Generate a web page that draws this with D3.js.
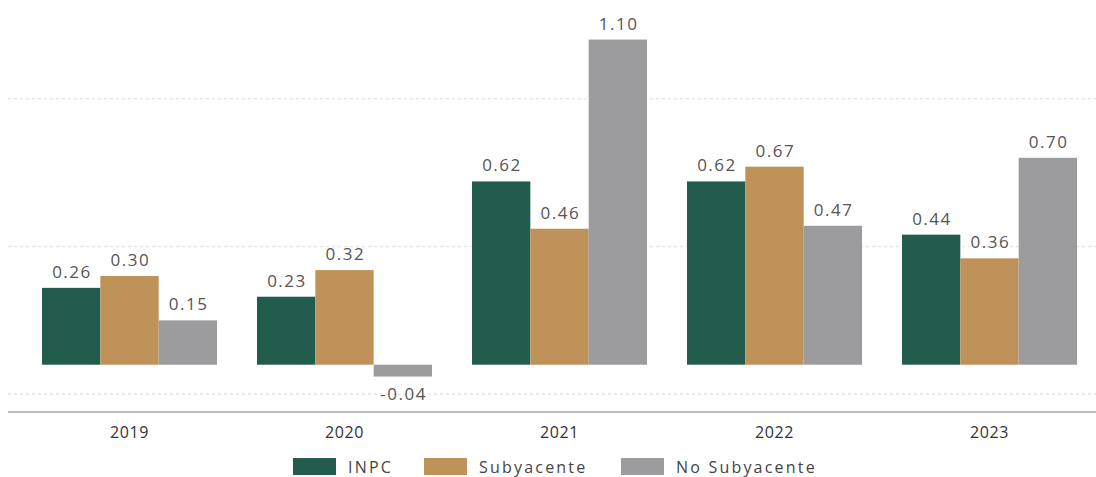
<!DOCTYPE html>
<html><head><meta charset="utf-8">
<script src="https://cdn.jsdelivr.net/npm/d3@7"></script>
<style>body{margin:0;background:#fff;} svg{display:block;}</style>
</head><body><svg id="c" width="1096" height="477"></svg>
<script>
const years = ["2019","2020","2021","2022","2023"];
const seriesNames = ["INPC","Subyacente","No Subyacente"];
const inpc = [0.26,0.23,0.62,0.62,0.44];
const subyacente = [0.30,0.32,0.46,0.67,0.36];
const noSubyacente = [0.15,-0.04,1.10,0.47,0.70];
const gridTicks = [-0.1,0.4,0.9];
const colors = ["#225c4c","#bf925a","#9c9c9e"];

const values = [inpc, subyacente, noSubyacente];
const svg = d3.select("#c");
const font = "'Open Sans', sans-serif";

const x = d3.scaleBand().domain(years).range([22,1097]).paddingInner(0.186).paddingOuter(0.093);
const xs = d3.scaleBand().domain(seriesNames).range([0,x.bandwidth()]);
const y = d3.scaleLinear().domain([-0.16,1.2]).range([412,10]);

// gridlines
svg.append("g").selectAll("line").data(gridTicks).join("line")
  .attr("x1",8).attr("x2",1096)
  .attr("y1",d=>y(d)).attr("y2",d=>y(d))
  .attr("stroke","#e6e6e6").attr("stroke-width",1.5).attr("stroke-dasharray","3,3");

// bars
const groups = svg.append("g").selectAll("g").data(years).join("g")
  .attr("transform",d=>`translate(${x(d)},0)`);
groups.each(function(yr,i){
  const g = d3.select(this);
  const rows = seriesNames.map((s,k)=>({s,k,v:values[k][i]}));
  g.selectAll("rect").data(rows).join("rect")
    .attr("x",d=>xs(d.s)).attr("width",xs.bandwidth())
    .attr("y",d=>y(Math.max(0,d.v))).attr("height",d=>Math.abs(y(d.v)-y(0)))
    .attr("fill",d=>colors[d.k]);
  g.selectAll("text").data(rows).join("text")
    .attr("x",d=>xs(d.s)+xs.bandwidth()/2+0.8)
    .attr("y",d=>d.v>=0 ? y(d.v)-10 : y(d.v)+23)
    .attr("text-anchor","middle")
    .attr("font-family",font).attr("font-size",17).attr("letter-spacing",1.5)
    .attr("fill","#555")
    .text(d=>d.v.toFixed(2));
});

// x axis
const xa = svg.append("g").attr("transform","translate(0,412)")
  .call(d3.axisBottom(x).tickSize(0).tickPadding(15));
xa.select(".domain").remove();
xa.append("line").attr("x1",8).attr("x2",1096).attr("y1",0).attr("y2",0)
  .attr("stroke","#bdbdbd").attr("stroke-width",2);
xa.selectAll(".tick text").attr("font-family",font).attr("font-size",16)
  .attr("letter-spacing",0.6).attr("fill","#333");

// legend
const legendX = [293,424,621];
const lg = svg.append("g").selectAll("g").data(seriesNames).join("g")
  .attr("transform",(d,i)=>`translate(${legendX[i]},458)`);
lg.append("rect").attr("width",43).attr("height",17).attr("fill",(d,i)=>colors[i]);
lg.append("text").attr("x",55).attr("y",15)
  .attr("font-family",font).attr("font-size",16).attr("letter-spacing",2.2).attr("fill","#444")
  .text(d=>d);
</script></body></html>
